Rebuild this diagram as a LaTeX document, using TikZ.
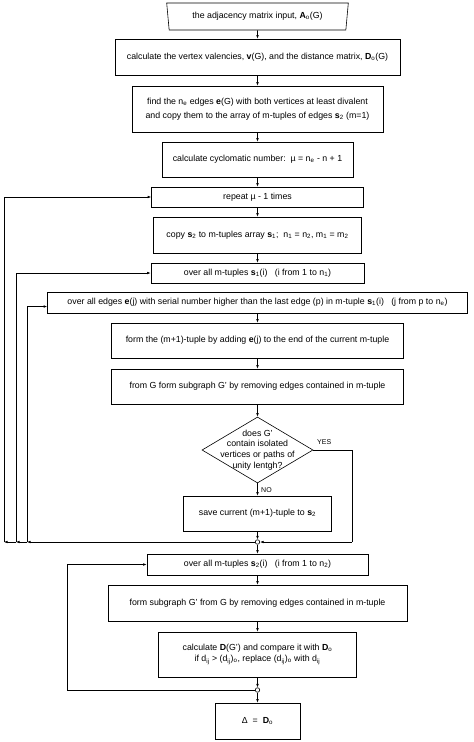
\documentclass[tikz,border=0pt]{standalone}
\usepackage{fontspec}
\setmainfont{Liberation Sans}
\usetikzlibrary{shapes.geometric,arrows.meta,calc}
\newcommand{\bv}[1]{\textbf{#1}}
\newcommand{\lo}[1]{\textsubscript{#1}}
\begin{document}
\begin{tikzpicture}[x=1pt,y=-1pt,
  every node/.style={font=\fontsize{8.8}{11}\selectfont},
  box/.style={draw, rectangle, inner sep=0pt, align=center, line width=0.6pt},
  lbl/.style={font=\fontsize{7}{8}\selectfont, inner sep=0pt},
  arr/.style={-{Latex[length=3.5pt,width=2.6pt]}, line width=0.6pt},
  ln/.style={line width=0.6pt},
  junc/.style={circle, draw, fill=white, inner sep=0pt, minimum size=4.5pt, line width=0.6pt}
]
\useasboundingbox (0,0) rectangle (474,742);

\node[draw, line width=0.6pt, trapezium, shape border rotate=180, trapezium stretches=true,
  trapezium left angle=77.5, trapezium right angle=77.5, inner sep=0pt,
  minimum width=182, minimum height=27] (b1) at (257.5,16.5) {the adjacency matrix input, \bv{A}\lo{o}(G)};
\node[box, minimum width=285, minimum height=36] (b2) at (257.5,57) {calculate the vertex valencies, \bv{v}(G), and the distance matrix, \bv{D}\lo{o}(G)};
\node[box, minimum width=251, minimum height=46] (b3) at (257.5,109) {find the n\lo{e} edges \bv{e}(G) with both vertices at least divalent\\[2.5pt] and copy them to the array of m-tuples of edges \bv{s}\lo{2} (m=1)};
\node[box, minimum width=191, minimum height=35] (b4) at (257.5,159.5) {calculate cyclomatic number:\ \ µ = n\lo{e} - n + 1};
\node[box, minimum width=212, minimum height=20] (b5) at (257.5,197) {repeat µ - 1 times};
\node[box, minimum width=208, minimum height=36] (b6) at (257.5,235) {copy \bv{s}\lo{2} to m-tuples array \bv{s}\lo{1};\ \ n\lo{1} = n\lo{2}, m\lo{1} = m\lo{2}};
\node[box, minimum width=213, minimum height=20] (b7) at (257.5,273) {over all m-tuples \bv{s}\lo{1}(i)\ \ \ (i from 1 to n\lo{1})};
\node[box, minimum width=420, minimum height=21] (b8) at (257.5,302.5) {over all edges \bv{e}(j) with serial number higher than the last edge (p) in m-tuple \bv{s}\lo{1}(i)\ \ \ (j from p to n\lo{e})};
\node[box, minimum width=292, minimum height=35] (b9) at (257.5,340.5) {form the (m+1)-tuple by adding \bv{e}(j) to the end of the current m-tuple};
\node[box, minimum width=292, minimum height=35] (b10) at (257.5,386.5) {from G form subgraph G' by removing edges contained in m-tuple};
\node[draw, diamond, line width=0.6pt, inner sep=0pt, minimum width=111, minimum height=66] (d) at (257.5,450) {};
\node[align=center, inner sep=0pt, font=\fontsize{8.8}{10.8}\selectfont] (dt) at (257.5,450) {does G'\\contain isolated\\vertices or paths of\\unity lentgh?};
\node[box, minimum width=148, minimum height=35] (b11) at (257.5,513.5) {save current (m+1)-tuple to \bv{s}\lo{2}};
\node[junc] (j1) at (257.5,542) {};
\node[box, minimum width=221, minimum height=21] (b12) at (257.5,564.5) {over all m-tuples \bv{s}\lo{2}(i)\ \ \ (i from 1 to n\lo{2})};
\node[box, minimum width=299, minimum height=36] (b13) at (257.5,603) {form subgraph G' from G by removing edges contained in m-tuple};
\node[box, minimum width=198, minimum height=45] (b14) at (257.5,654.5) {calculate \bv{D}(G') and compare it with \bv{D}\lo{o}\\ if d\lo{ij} > (d\lo{ij})\lo{o}, replace (d\lo{ij})\lo{o} with d\lo{ij}};
\node[junc] (j2) at (257.5,690) {};
\node[box, minimum width=85, minimum height=36] (b15) at (257.5,721) {Δ\ \ =\ \ \bv{D}\lo{o}};

\node[lbl, anchor=west] (yes) at (317,442) {YES};
\node[lbl, anchor=west] (no) at (261,490) {NO};

\coordinate (ya) at (352,450);
\coordinate (yb) at (352,542);
\coordinate (l1) at (4,542);
\coordinate (l2) at (16,542);
\coordinate (l3) at (27,542);
\coordinate (l4) at (67,690);

\draw[arr] (b1.south) -- (b2.north);
\draw[arr] (b2.south) -- (b3.north);
\draw[arr] (b3.south) -- (b4.north);
\draw[arr] (b4.south) -- (b5.north);
\draw[arr] (b5.south) -- (b6.north);
\draw[arr] (b6.south) -- (b7.north);
\draw[arr] (b8.south) -- (b9.north);
\draw[arr] (b9.south) -- (b10.north);
\draw[arr] (b10.south) -- (d.north);
\draw[arr] (d.south) -- (b11.north);
\draw[arr] (b11.south) -- (j1.north);
\draw[ln] (d.east) -- (ya) -- (yb);
\draw[arr] (yb) -- (j1.east);
\draw[arr] (j1.south) -- (b12.north);
\draw[arr] (j1.west) -- (l3);
\draw[arr] (l3) -- (l2);
\draw[arr] (l2) -- (l1);
\draw[arr] (l3) |- ($(b8.west)+(0,4)$);
\draw[arr] (l2) |- (b7.west);
\draw[arr] (l1) |- (b5.west);
\draw[arr] (b12.south) -- (b13.north);
\draw[arr] (b13.south) -- (b14.north);
\draw[arr] (b14.south) -- (j2.north);
\draw[arr] (j2.south) -- (b15.north);
\draw[ln] (j2.west) -- (l4);
\draw[arr] (l4) |- (b12.west);
\end{tikzpicture}
\end{document}
